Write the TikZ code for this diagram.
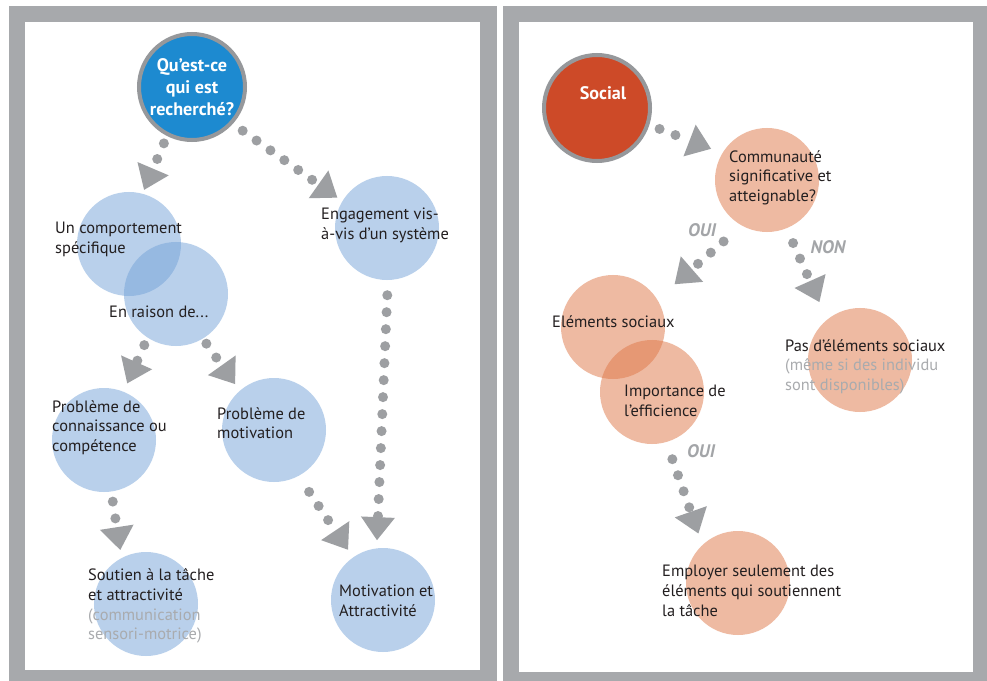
\documentclass[tikz,border=0pt]{standalone}
\usepackage{fontspec}
\setsansfont{PT Sans}
\usepackage{tikz}
\usetikzlibrary{
  arrows.meta,
  positioning
}
\definecolor{FrameGray}{HTML}{A7A9AC}
\definecolor{DotGray}{HTML}{9D9FA2}
\definecolor{RingGray}{HTML}{96989B}
\definecolor{QueryBlue}{HTML}{1D8AD0}
\definecolor{SocialRed}{HTML}{CD4A28}
\definecolor{BlueDisc}{HTML}{75A3D9}
\definecolor{SalmonDisc}{HTML}{DF7747}
\definecolor{InkDark}{HTML}{231F20}
\definecolor{NoteGray}{HTML}{A9ABAE}
\definecolor{AnswerGray}{HTML}{A3A5A8}

\begin{document}
\begin{tikzpicture}[
  x=0.03cm,
  y=-0.03cm,
  font=\sffamily,
  disc/.style={
    circle,
    fill opacity=0.5,
    minimum size=3.12cm,
    inner sep=0pt
  },
  hub/.style={
    circle,
    draw=RingGray,
    line width=0.12cm,
    minimum size=3.18cm,
    inner sep=0pt,
    align=center,
    text=white,
    font=\bfseries\fontsize{15.5}{19}\selectfont\sffamily
  },
  caption/.style={
    anchor=north west,
    yshift=0.24cm,
    align=left,
    inner sep=0pt,
    text=InkDark,
    font=\fontsize{14}{17}\selectfont\sffamily
  },
  answer/.style={
    inner sep=0pt,
    text=AnswerGray,
    font=\bfseries\itshape\fontsize{15.5}{18}\selectfont\sffamily
  },
  link/.style={
    draw=DotGray,
    line width=0.3cm,
    line cap=round,
    dash pattern=on 0pt off 0.51cm,
    shorten <=0.3cm,
    shorten >=0.27cm,
    -{Triangle[length=0.69cm,width=1.02cm,line width=0pt]}
  }
]

% Frames of the two cards.
\fill[white] (0,0) rectangle (987,681);
\fill[FrameGray] (9,6) rectangle (497,681);
\fill[white] (25,22) rectangle (480,670);
\fill[FrameGray] (503,6) rectangle (987,681);
\fill[white] (519,22) rectangle (973,672);

% Card 1: what is sought.
\node[hub,fill=QueryBlue] (query) at (192,87) {Qu’est-ce\\qui est\\recherché?};
\node[disc,fill=BlueDisc] (behaviour) at (129,244) {};
\node[disc,fill=BlueDisc] (reason) at (176,294) {};
\node[disc,fill=BlueDisc] (engagement) at (387,228) {};
\node[disc,fill=BlueDisc] (knowledge) at (104,440) {};
\node[disc,fill=BlueDisc] (motive) at (274,430) {};
\node[disc,fill=BlueDisc] (support) at (146,604) {};
\node[disc,fill=BlueDisc] (appeal) at (383,600) {};

\node[caption] (behaviourtext) at (55,230) {Un comportement\\spécifique};
\node[caption] (reasontext) at (109,314) {En raison de...};
\node[caption] (engagementtext) at (321,216) {Engagement vis-\\à-vis d’un système};
\node[caption] (knowledgetext) at (52,408) {Problème de\\connaissance ou\\compétence};
\node[caption] (motivetext) at (217,415) {Problème de\\motivation};
\node[caption] (supporttext) at (88,576)
  {Soutien à la tâche\\et attractivité\\\textcolor{NoteGray}{(communication}\\\textcolor{NoteGray}{sensori-motrice)}};
\node[caption] (appealtext) at (339,593) {Motivation et\\Attractivité};

\draw[link,shorten <=0.24cm,shorten >=0.12cm] (query.243) -- (behaviour.75);
\draw[link,shorten <=0.36cm,shorten >=0.18cm] (query.318) -- (engagement.149);
\draw[link,shorten <=0.24cm] (reason.237) -- (knowledge.68);
\draw[link,shorten <=0.18cm,shorten >=0.24cm] (reason.301) -- (motive.131);
\draw[link,shorten >=0.24cm] (knowledge.278) -- (support.118);
\draw[link,shorten <=0.57cm] (motive.298) -- (appeal.125);
\draw[link,shorten <=0.45cm,shorten >=0.24cm] (engagement.271) -- (appeal.97);

% Card 2: social.
\node[hub,fill=SocialRed] (social) at (597,108) {};
\node[text=white,inner sep=0pt,font=\bfseries\fontsize{15.5}{19}\selectfont\sffamily]
  (socialtext) at (603,93) {Social};
\node[disc,fill=SalmonDisc] (community) at (767,180) {};
\node[disc,fill=SalmonDisc] (elements) at (613,327) {};
\node[disc,fill=SalmonDisc] (efficiency) at (652,392) {};
\node[disc,fill=SalmonDisc] (noelements) at (860,360) {};
\node[disc,fill=SalmonDisc] (taskonly) at (738,583) {};

\node[caption] (communitytext) at (729,158) {Communauté\\significative et\\atteignable?};
\node[caption] (elementstext) at (552,323) {Eléments sociaux};
\node[caption] (efficiencytext) at (624,393) {Importance de\\l’efficience};
\node[caption] (noelementstext) at (785,347)
  {Pas d’éléments sociaux\\\textcolor{NoteGray}{(même si des individu}\\\textcolor{NoteGray}{sont disponibles)}};
\node[caption] (taskonlytext) at (662,573)
  {Employer seulement des\\éléments qui soutiennent\\la tâche};

\draw[link,shorten <=0.33cm,shorten >=0.36cm] (social.342) -- (community.149);
\draw[link,shorten <=0.72cm,shorten >=0.69cm] (community.241) -- (elements.32);
\draw[link,shorten <=0.48cm,shorten >=0.57cm] (community.292) -- (noelements.129);
\draw[link,shorten <=0.54cm,shorten >=0.36cm] (efficiency.286) -- (taskonly.133);

\node[answer] (yesfirst) at (702,230) {OUI};
\node[answer] (nofirst) at (828,247) {NON};
\node[answer] (yessecond) at (701,451) {OUI};
\end{tikzpicture}
\end{document}
